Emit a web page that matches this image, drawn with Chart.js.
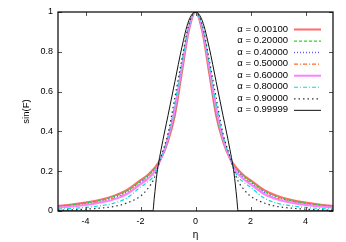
<!DOCTYPE html>
<html>
<head>
<meta charset="utf-8">
<script src="https://cdn.jsdelivr.net/npm/chart.js@4.4.0/dist/chart.umd.min.js"></script>
<style>
  body { margin: 0; background: #fff; }
  canvas { display: block; }
</style>
</head>
<body>
<canvas id="grafico" width="346" height="242"></canvas>
<script>
// valores
const eta = [-5, -4.5, -4, -3.5, -3, -2.5, -2, -1.75, -1.5, -1.25, -1, -0.75, -0.5, -0.25, 0,
             0.25, 0.5, 0.75, 1, 1.25, 1.5, 1.75, 2, 2.5, 3, 3.5, 4, 4.5, 5];
const etaPreto = [-5, -2.5, -1.55, -1.5, -1.4, -1.25, -1, -0.75, -0.5, -0.25, 0,
                  0.25, 0.5, 0.75, 1, 1.25, 1.4, 1.5, 1.55, 2.5, 5];

const alfas = ['0.00100', '0.20000', '0.40000', '0.50000', '0.60000', '0.80000', '0.90000', '0.99999'];

const a00100 = [0.025, 0.033, 0.043, 0.055, 0.075, 0.105, 0.155, 0.18, 0.215, 0.265, 0.35, 0.48, 0.69, 0.90, 1,
                0.90, 0.69, 0.48, 0.35, 0.265, 0.215, 0.18, 0.155, 0.105, 0.075, 0.055, 0.043, 0.033, 0.025];
const a20000 = [0.024, 0.031, 0.040, 0.052, 0.071, 0.10, 0.15, 0.175, 0.21, 0.265, 0.355, 0.49, 0.70, 0.905, 1,
                0.905, 0.70, 0.49, 0.355, 0.265, 0.21, 0.175, 0.15, 0.10, 0.071, 0.052, 0.040, 0.031, 0.024];
const a40000 = [0.021, 0.028, 0.036, 0.048, 0.066, 0.095, 0.145, 0.17, 0.205, 0.265, 0.36, 0.50, 0.71, 0.91, 1,
                0.91, 0.71, 0.50, 0.36, 0.265, 0.205, 0.17, 0.145, 0.095, 0.066, 0.048, 0.036, 0.028, 0.021];
const a50000 = [0.019, 0.026, 0.034, 0.045, 0.062, 0.09, 0.14, 0.165, 0.20, 0.265, 0.36, 0.505, 0.715, 0.91, 1,
                0.91, 0.715, 0.505, 0.36, 0.265, 0.20, 0.165, 0.14, 0.09, 0.062, 0.045, 0.034, 0.026, 0.019];
const a60000 = [0.017, 0.023, 0.030, 0.041, 0.057, 0.085, 0.135, 0.16, 0.195, 0.265, 0.365, 0.515, 0.72, 0.915, 1,
                0.915, 0.72, 0.515, 0.365, 0.265, 0.195, 0.16, 0.135, 0.085, 0.057, 0.041, 0.030, 0.023, 0.017];
const a80000 = [0.010, 0.013, 0.018, 0.026, 0.038, 0.065, 0.12, 0.145, 0.18, 0.27, 0.375, 0.54, 0.74, 0.925, 1,
                0.925, 0.74, 0.54, 0.375, 0.27, 0.18, 0.145, 0.12, 0.065, 0.038, 0.026, 0.018, 0.013, 0.010];
const a90000 = [0.004, 0.006, 0.009, 0.014, 0.022, 0.04, 0.075, 0.11, 0.165, 0.275, 0.39, 0.57, 0.76, 0.935, 1,
                0.935, 0.76, 0.57, 0.39, 0.275, 0.165, 0.11, 0.075, 0.04, 0.022, 0.014, 0.009, 0.006, 0.004];
const a99999 = [0, 0, 0, 0.065, 0.19, 0.31, 0.48, 0.65, 0.82, 0.955, 1,
                0.955, 0.82, 0.65, 0.48, 0.31, 0.19, 0.065, 0, 0, 0];

const xTicks = [-4, -2, 0, 2, 4];
const yTicks = [0, 0.2, 0.4, 0.6, 0.8, 1];
const yTickLabels = ['0', '0.2', '0.4', '0.6', '0.8', '1'];

const series = [a00100, a20000, a40000, a50000, a60000, a80000, a90000, a99999];
const estilos = [
    { cor: '#ff6b6b', largura: 2,   traco: [] },
    { cor: '#22dd22', largura: 1.2, traco: [3, 2] },
    { cor: '#6060ff', largura: 1.5, traco: [1, 2] },
    { cor: '#ff6a2a', largura: 1.2, traco: [4, 2, 1, 2] },
    { cor: '#ff80ff', largura: 2,   traco: [] },
    { cor: '#00dddd', largura: 1.2, traco: [4, 2, 1, 2] },
    { cor: '#333333', largura: 1.2, traco: [1.5, 3] },
    { cor: '#111111', largura: 1,   traco: [] }
];

Chart.defaults.font.family = "'Liberation Sans', Arial, sans-serif";
Chart.defaults.font.size = 9;
Chart.defaults.color = '#000';

const datasets = series.map((valores, i) => {
    const xs = i === series.length - 1 ? etaPreto : eta;
    return {
        label: 'α = ' + alfas[i],
        data: valores.map((v, k) => ({ x: xs[k], y: v })),
        borderColor: estilos[i].cor,
        borderWidth: estilos[i].largura,
        borderDash: estilos[i].traco,
        pointRadius: 0,
        fill: false,
        cubicInterpolationMode: 'monotone',
        order: series.length - i
    };
});

// moldura, marcas de escala para dentro e legenda no estilo gnuplot
const molduraPlugin = {
    id: 'moldura',
    afterDatasetsDraw(chart) {
        const ctx = chart.ctx;
        const area = chart.chartArea;
        const sx = chart.scales.x;
        const sy = chart.scales.y;
        ctx.save();
        ctx.strokeStyle = '#555';
        ctx.lineWidth = 1;
        xTicks.forEach(v => {
            const px = Math.round(sx.getPixelForValue(v)) + 0.5;
            ctx.beginPath();
            ctx.moveTo(px, area.bottom); ctx.lineTo(px, area.bottom - 4);
            ctx.moveTo(px, area.top); ctx.lineTo(px, area.top + 4);
            ctx.stroke();
        });
        yTicks.forEach(v => {
            const py = Math.round(sy.getPixelForValue(v)) + 0.5;
            ctx.beginPath();
            ctx.moveTo(area.left, py); ctx.lineTo(area.left + 4, py);
            ctx.moveTo(area.right, py); ctx.lineTo(area.right - 4, py);
            ctx.stroke();
        });
        ctx.strokeStyle = '#000';
        ctx.lineWidth = 1.2;
        ctx.strokeRect(area.left, area.top, area.right - area.left, area.bottom - area.top);

        // legenda
        ctx.font = "9.5px 'Liberation Sans', Arial, sans-serif";
        ctx.textAlign = 'right';
        ctx.textBaseline = 'middle';
        ctx.fillStyle = '#000';
        chart.data.datasets.forEach((ds, i) => {
            const y = area.top + 17 + i * 11.55;
            const xt = area.right - 45;
            ctx.fillText(ds.label, xt, y);
            ctx.beginPath();
            ctx.strokeStyle = ds.borderColor;
            ctx.lineWidth = ds.borderWidth;
            ctx.setLineDash(ds.borderDash);
            ctx.moveTo(xt + 6, y + 0.5);
            ctx.lineTo(xt + 33, y + 0.5);
            ctx.stroke();
            ctx.setLineDash([]);
        });
        ctx.restore();
    }
};

new Chart(document.getElementById('grafico').getContext('2d'), {
    type: 'line',
    data: { datasets: datasets },
    options: {
        responsive: false,
        animation: false,
        layout: { padding: { left: 0, right: 13, top: 12, bottom: 0 } },
        plugins: {
            legend: { display: false },
            tooltip: { enabled: false }
        },
        scales: {
            x: {
                type: 'linear',
                min: -5,
                max: 5,
                grid: { display: false, drawTicks: false },
                border: { display: false },
                afterBuildTicks: scale => { scale.ticks = xTicks.map(v => ({ value: v })); },
                afterFit: scale => { scale.height = 31; },
                ticks: { padding: 5, maxRotation: 0, callback: v => String(v) },
                title: { display: true, text: 'η', padding: { top: 0, bottom: 1 }, font: { size: 10 } }
            },
            y: {
                type: 'linear',
                min: 0,
                max: 1,
                grid: { display: false, drawTicks: false },
                border: { display: false },
                afterBuildTicks: scale => { scale.ticks = yTicks.map(v => ({ value: v })); },
                afterFit: scale => { scale.width = 58; },
                ticks: { padding: 5, callback: (v, i) => yTickLabels[i] },
                title: { display: true, text: 'sin(F)', padding: { top: 21, bottom: 0 }, font: { size: 9.5 } }
            }
        }
    },
    plugins: [molduraPlugin]
});
</script>
</body>
</html>
